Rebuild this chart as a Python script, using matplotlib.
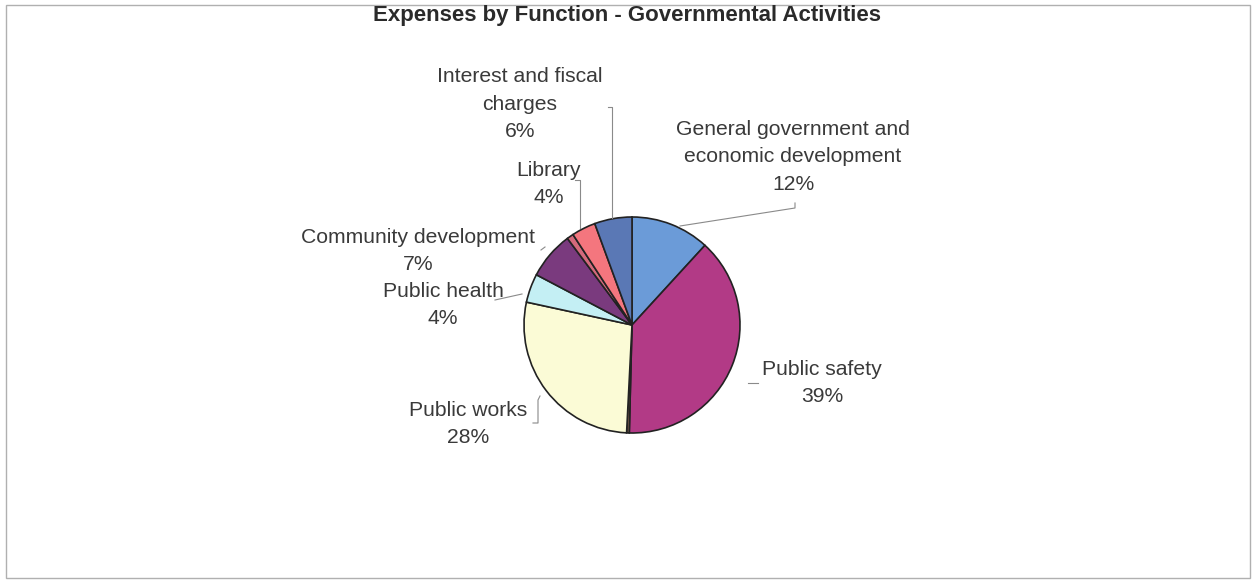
import matplotlib
matplotlib.use("Agg")
import matplotlib.pyplot as plt
from matplotlib.patches import Rectangle

# Expense shares by function (percent of total), clockwise from 12 o'clock
categories = [
    "General government and\neconomic development",
    "Public safety",
    "",
    "Public works",
    "Public health",
    "Community development",
    "",
    "Library",
    "Interest and fiscal\ncharges",
]
shares = [11.8, 38.6, 0.4, 27.6, 4.3, 7.1, 1.0, 3.6, 5.6]
colors = ["#6b9bd8", "#b23a86", "#7a5a4c", "#fbfbd6", "#c4eff4",
          "#7a3a7e", "#d46a7c", "#f4767e", "#5a78b5"]

W, H = 1255, 584
fig = plt.figure(figsize=(W / 100, H / 100), dpi=100)
ax = fig.add_axes([0, 0, 1, 1])
ax.set_xlim(0, W)
ax.set_ylim(0, H)
ax.axis("off")


def Y(y):
    # convert a top-down pixel row into the axes' bottom-up coordinate
    return H - y


# outer frame
ax.add_patch(Rectangle((6, Y(578)), 1244, 573, fill=False,
                       edgecolor="#b0b0b0", lw=1.0))

cx, cy, r = 632, 325, 108
ax.pie(shares, colors=colors, startangle=90, counterclock=False,
       center=(cx, Y(cy)), radius=r,
       wedgeprops=dict(edgecolor="#222222", linewidth=1.2))
ax.set_xlim(0, W)
ax.set_ylim(0, H)
ax.set_aspect("equal")

font = "Liberation Sans"
txt_color = "#3a3a3a"

ax.text(627, Y(15), "Expenses by Function - Governmental Activities",
        ha="center", va="center", fontsize=16, fontweight="bold",
        family=font, color="#2a2a2a")

# label anchor for each named slice
label_pos = {
    0: (793, 157),
    1: (822, 383),
    3: (468, 424),
    4: (443, 305),
    5: (418, 251),
    7: (549, 184),
    8: (520, 104),
}
for i, (x, y) in label_pos.items():
    ax.text(x, Y(y), f"{categories[i]}\n{round(shares[i])}%",
            ha="center", va="center", fontsize=15.2, family=font,
            color=txt_color, linespacing=1.55)

# leader lines
leader = dict(color="#8a8a8a", lw=0.8)
ax.plot([680, 795, 795], [Y(226), Y(208), Y(203)], **leader)
ax.plot([748, 758], [Y(383), Y(383)], **leader)
ax.plot([540, 538, 538, 533], [Y(396), Y(400), Y(423), Y(423)], **leader)
ax.plot([495, 522], [Y(300), Y(294)], **leader)
ax.plot([541, 545], [Y(250), Y(247)], **leader)
ax.plot([575, 580, 580], [Y(180), Y(180), Y(228)], **leader)
ax.plot([608, 612, 612], [Y(107), Y(107), Y(218)], **leader)

fig.savefig("out.png", dpi=100)
